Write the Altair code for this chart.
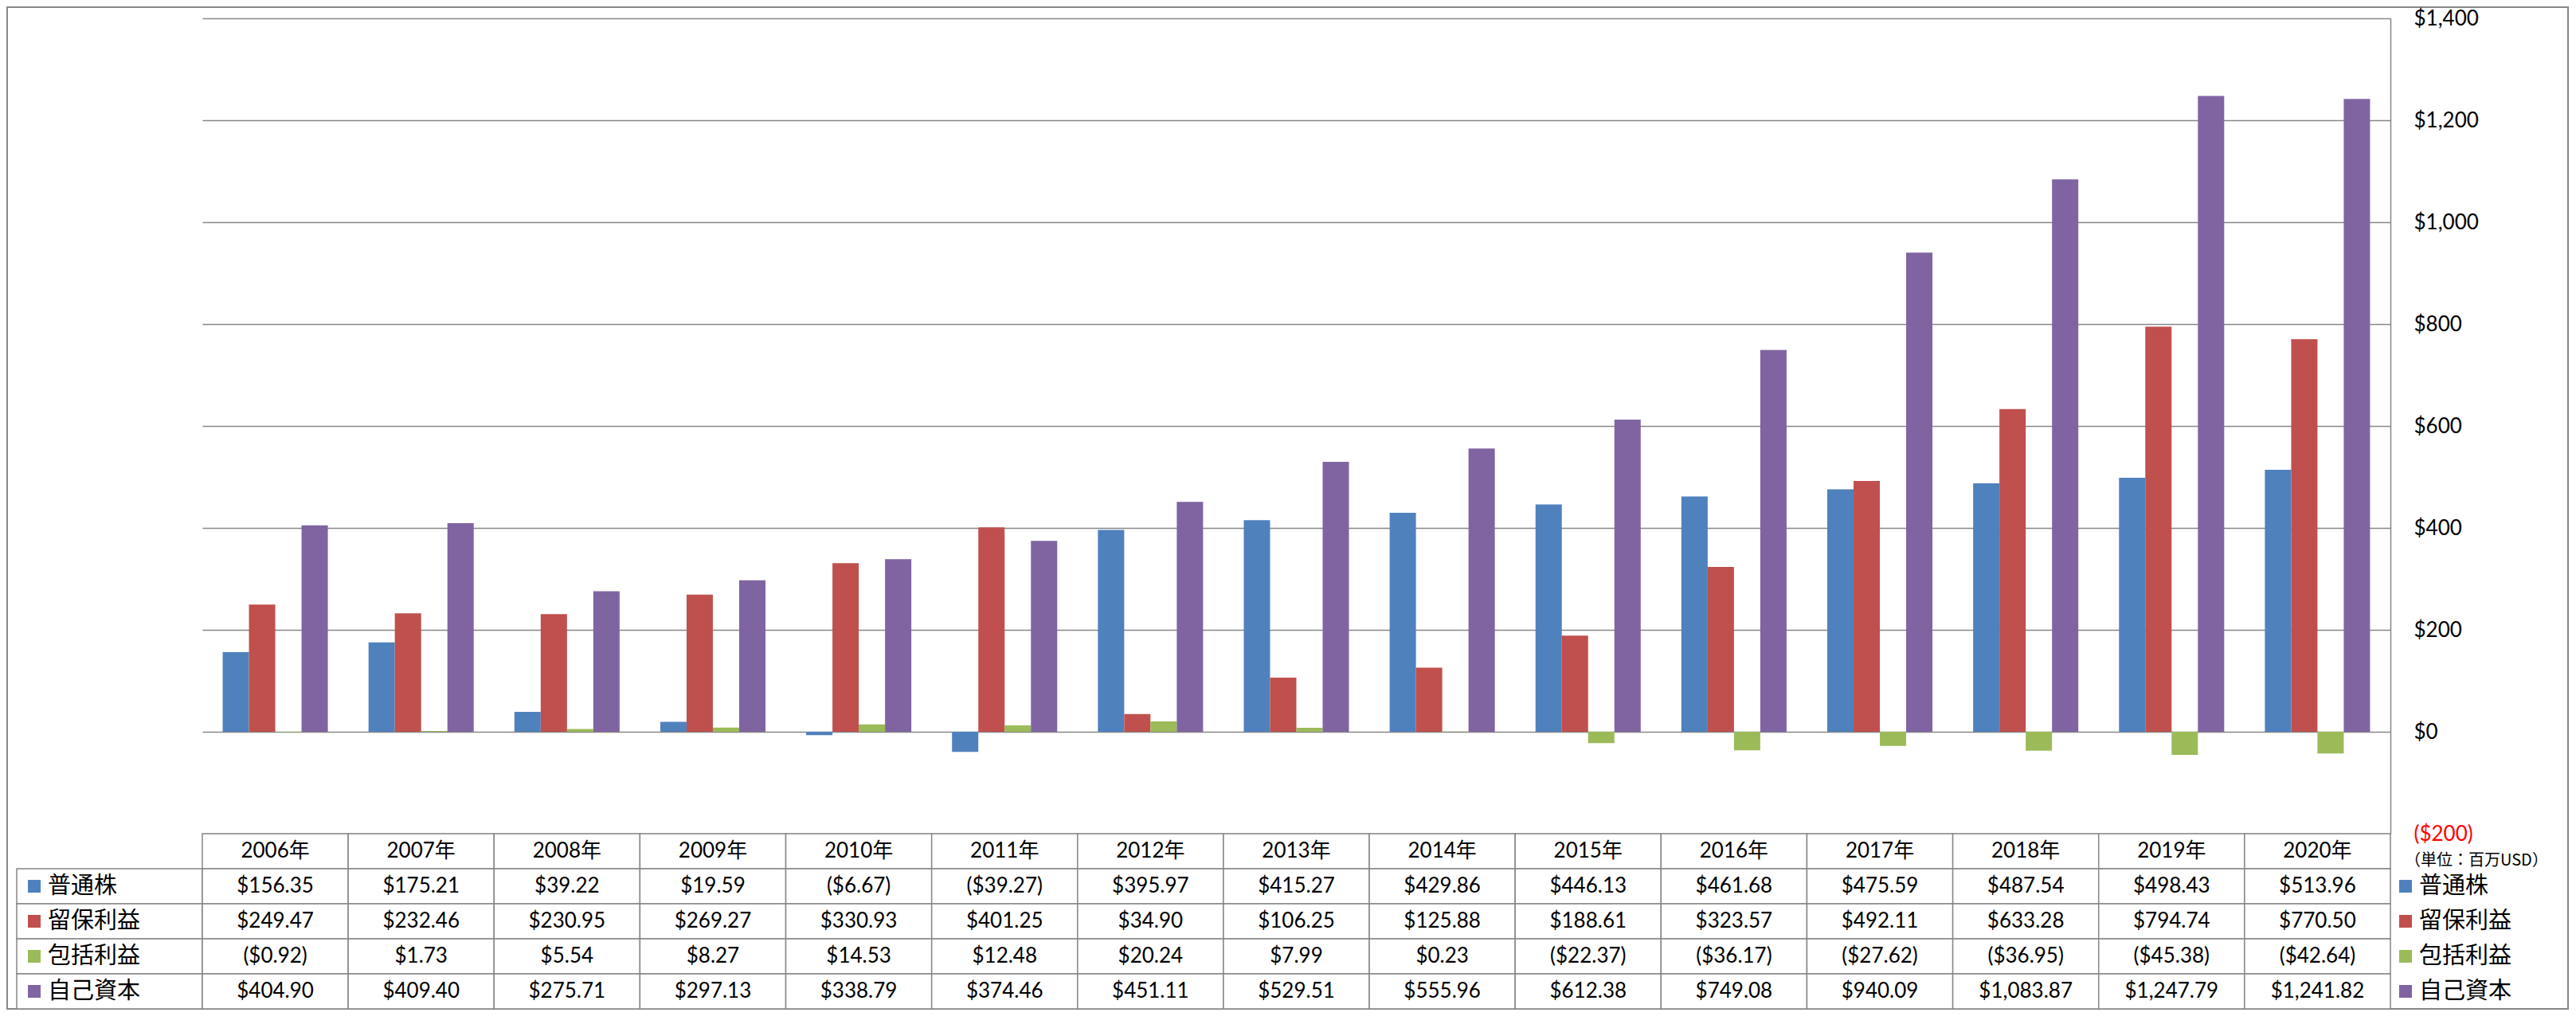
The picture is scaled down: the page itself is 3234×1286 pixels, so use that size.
import altair as alt
import pandas as pd

years = ["2006年", "2007年", "2008年", "2009年", "2010年", "2011年", "2012年", "2013年",
         "2014年", "2015年", "2016年", "2017年", "2018年", "2019年", "2020年"]
series = ["普通株", "留保利益", "包括利益", "自己資本"]
colors = ["#4F81BD", "#C0504D", "#9BBB59", "#8064A2"]

common_stock = [156.35, 175.21, 39.22, 19.59, -6.67, -39.27, 395.97, 415.27,
                429.86, 446.13, 461.68, 475.59, 487.54, 498.43, 513.96]
retained = [249.47, 232.46, 230.95, 269.27, 330.93, 401.25, 34.90, 106.25,
            125.88, 188.61, 323.57, 492.11, 633.28, 794.74, 770.50]
comprehensive = [-0.92, 1.73, 5.54, 8.27, 14.53, 12.48, 20.24, 7.99,
                 0.23, -22.37, -36.17, -27.62, -36.95, -45.38, -42.64]
equity = [404.90, 409.40, 275.71, 297.13, 338.79, 374.46, 451.11, 529.51,
          555.96, 612.38, 749.08, 940.09, 1083.87, 1247.79, 1241.82]
axis_ticks = [-200, 0, 200, 400, 600, 800, 1000, 1200, 1400]
unit_label = "（単位：百万USD）"

values = [common_stock, retained, comprehensive, equity]


def fmt(v):
    s = f"${abs(v):,.2f}"
    return f"({s})" if v < 0 else s


records = []
for s, vals in zip(series, values):
    for y, v in zip(years, vals):
        records.append({"year": y, "series": s, "value": v, "row": s, "label": fmt(v)})
df = pd.DataFrame(records)
hdr = pd.DataFrame({"year": years, "row": ["header"] * len(years), "label": years})
table_df = pd.concat([hdr, df[["year", "row", "label"]]], ignore_index=True)
rows_all = ["header"] + series
series_df = pd.DataFrame({"row": series, "series": series})

GRID = "#878787"
NUM_FONT = "Lato, 'Noto Sans CJK JP'"
CJK_FONT = "'Noto Sans CJK JP'"
PW = 2747
PH = 1024
TH = 220

color_scale = alt.Scale(domain=series, range=colors)
row_y = alt.Y("row:N", sort=rows_all, scale=alt.Scale(domain=rows_all, paddingInner=0, paddingOuter=0), axis=None)

# outer frame (drawn from the spacer to the left of the plot)
frame = alt.Chart(pd.DataFrame({"k": [0]})).mark_rect(
    fillOpacity=0, stroke=GRID, strokeWidth=2
).encode(
    x=alt.value(1), x2=alt.value(3216), y=alt.value(-14), y2=alt.value(PH + TH)
).properties(width=246, height=PH)

bars = alt.Chart(df).mark_bar().encode(
    x=alt.X("year:N", sort=years,
            scale=alt.Scale(paddingInner=0.279, paddingOuter=0.1395), axis=None),
    xOffset=alt.XOffset("series:N", sort=series,
                        scale=alt.Scale(paddingInner=0, paddingOuter=0)),
    y=alt.Y("value:Q", scale=alt.Scale(domain=[-200, 1400], nice=False, zero=False),
            axis=alt.Axis(orient="right", values=axis_ticks, grid=True, gridColor=GRID,
                          gridWidth=1.3, domain=True, domainColor=GRID, domainWidth=1.5,
                          ticks=False, tickSize=0, labelPadding=29, labelFont="Lato",
                          labelFontSize=26, labelAlign="left", labelBaseline="middle",
                          labelColor={"condition": {"test": "datum.value < 0", "value": "#ff0000"},
                                      "value": "#000000"},
                          labelExpr="datum.value < 0 ? '($' + format(-datum.value, ',') + ')' : '$' + format(datum.value, ',')",
                          title=None)),
    color=alt.Color("series:N", scale=color_scale, legend=None),
).properties(width=PW, height=PH)

# placeholder to the right of the plot (the axis labels live here)
blank = alt.Chart(pd.DataFrame({"k": [0]})).mark_text(text="").encode(
    x=alt.value(0), y=alt.value(0)
).properties(width=225, height=PH)

# left label column of the data table
lab_cells = alt.Chart(series_df).mark_rect(fill="white", stroke=GRID, strokeWidth=1.5).encode(
    x=alt.value(13), x2=alt.value(246), y=row_y
)
lab_sq = alt.Chart(series_df).mark_square(size=256, opacity=1).encode(
    x=alt.value(35), y=row_y, color=alt.Color("series:N", scale=color_scale, legend=None)
)
lab_txt = alt.Chart(series_df).mark_text(align="left", baseline="middle", font=CJK_FONT,
                                         fontSize=29, color="black").encode(
    x=alt.value(52), y=row_y, text="row:N"
)
labels = alt.layer(lab_cells, lab_sq, lab_txt).properties(width=246, height=TH)

# data table
tx = alt.X("year:N", sort=years, scale=alt.Scale(paddingInner=0, paddingOuter=0), axis=None)
cells = alt.Chart(table_df).mark_rect(fill="white", stroke=GRID, strokeWidth=1.5).encode(
    x=tx, y=row_y
)
ctext = alt.Chart(table_df).mark_text(baseline="middle", font=NUM_FONT, fontSize=26,
                                      color="black").encode(
    x=tx, y=row_y, text="label:N"
)
table = alt.layer(cells, ctext).properties(width=PW, height=TH)

# right legend
leg_sq = alt.Chart(series_df).mark_square(size=256, opacity=1).encode(
    x=alt.value(19), y=row_y, color=alt.Color("series:N", scale=color_scale, legend=None)
)
leg_txt = alt.Chart(series_df).mark_text(align="left", baseline="middle", font=CJK_FONT,
                                         fontSize=29, color="black").encode(
    x=alt.value(36), y=row_y, text="row:N"
)
unit = alt.Chart(pd.DataFrame({"t": [unit_label]})).mark_text(
    align="left", baseline="middle", font=CJK_FONT, fontSize=20, color="black"
).encode(x=alt.value(18), y=alt.value(34), text="t:N")
legend = alt.layer(leg_sq, leg_txt, unit).properties(width=225, height=TH)

chart = alt.concat(frame, bars, blank, labels, table, legend,
                   columns=3, spacing=0, bounds="flush", align="each").resolve_scale(
    x="independent", y="independent"
).properties(padding=0, background="white").configure_view(strokeWidth=0)

chart.save("out.html", embed_options={"renderer": "svg", "actions": False})
